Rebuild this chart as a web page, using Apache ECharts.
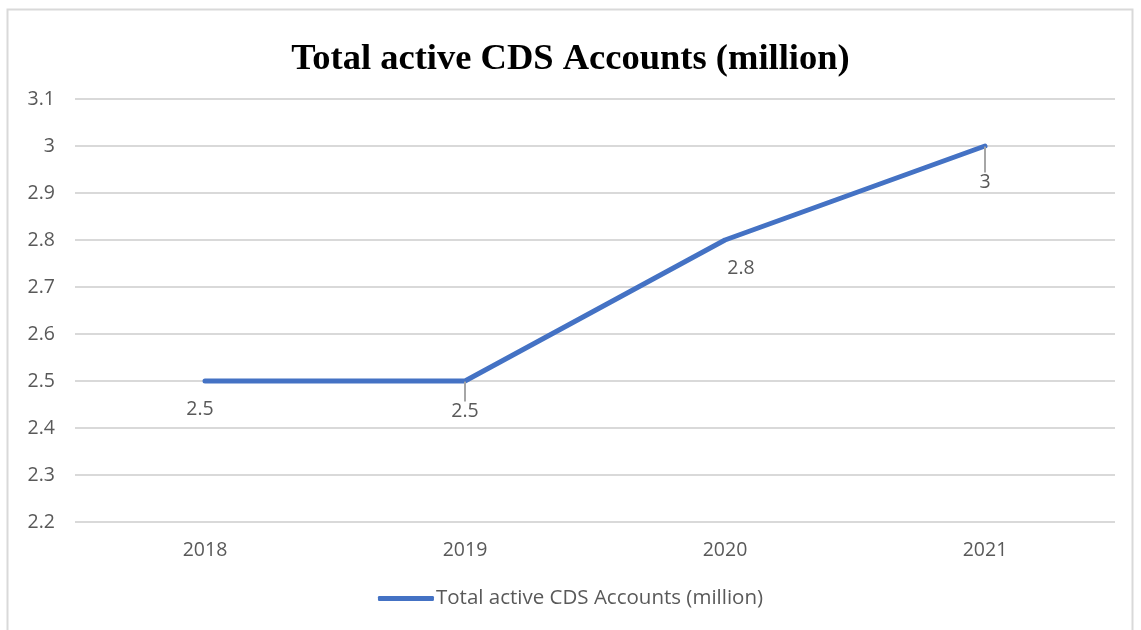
<!DOCTYPE html>
<html><head><meta charset="utf-8">
<script src="https://cdn.jsdelivr.net/npm/echarts@6/dist/echarts.min.js"></script>
<style>html,body{margin:0;padding:0;background:#fff;}#c{width:1141px;height:630px;}</style>
</head><body><div id="c"></div>
<script>
const categories = ['2018', '2019', '2020', '2021'];
const values = [2.5, 2.5, 2.8, 3];
const seriesName = 'Total active CDS Accounts (million)';
const titleText = 'Total active CDS Accounts (million)';

const chart = echarts.init(document.getElementById('c'));
const labelColor = '#595959';
const fontFam = '"Open Sans", "Noto Sans", sans-serif';
const labelShift = [[-5, 12, false], [0, 14, true], [16, 12, false], [0, 20, true]];
chart.setOption({
  animation: false,
  graphic: [{type:'rect', shape:{x:7.5,y:9.5,width:1125,height:640}, style:{fill:'none', stroke:'#d9d9d9', lineWidth:2}}],
  title: {text: titleText, left: 'center', top: 36,
    textStyle: {fontFamily: '"Liberation Serif", "Times New Roman", serif', fontWeight: 'bold', fontSize: 36.5, color: '#000'}},
  legend: {bottom: 16, left: 'center', itemWidth: 56, itemHeight: 5, icon: 'roundRect',
    textStyle: {color: labelColor, fontSize: 20.5, fontFamily: fontFam, padding: [0,0,0,-3]}, itemGap: 0},
  grid: {left: 75, right: 26, top: 99, bottom: 108},
  xAxis: {type: 'category', data: categories, boundaryGap: true,
    axisLine: {show: false}, axisTick: {show: false},
    axisLabel: {color: labelColor, fontSize: 19.5, fontFamily: fontFam, margin: 18}},
  yAxis: {type: 'value', min: 2.2, max: 3.1, interval: 0.1,
    axisLine: {show: false}, axisTick: {show: false},
    splitLine: {lineStyle: {color: '#d9d9d9', width: 2}},
    axisLabel: {color: labelColor, fontSize: 19.5, fontFamily: fontFam, margin: 20,
      formatter: v => String(Math.round(v*10)/10)}},
  series: [{name: seriesName, type: 'line',
    data: values.map((v, i) => ({value: v, labelLine: {show: labelShift[i][2]}})),
    symbol: 'circle', symbolSize: 1, showSymbol: true,
    lineStyle: {color: '#4472C4', width: 5, cap: 'round'}, itemStyle: {color: '#4472C4'},
    label: {show: true, position: 'bottom', distance: 6, color: labelColor, fontSize: 19.5, fontFamily: fontFam},
    labelLayout: p => ({dx: labelShift[p.dataIndex][0], dy: labelShift[p.dataIndex][1]}),
    labelLine: {show: true, lineStyle: {color: '#a6a6a6', width: 2}}
  }]
});
</script></body></html>
